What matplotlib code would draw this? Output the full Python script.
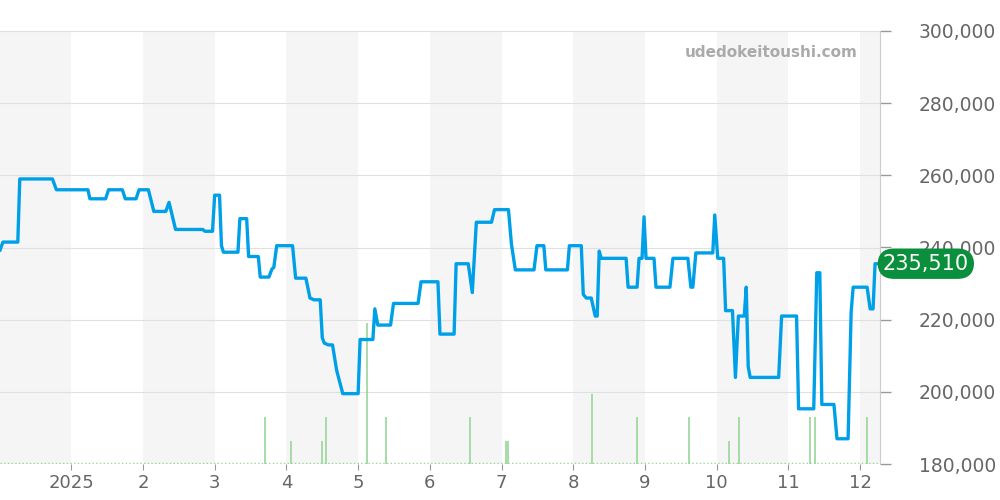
import matplotlib.pyplot as plt
import numpy as np

# x in months since 2025-01-01 (0 = Jan 2025), price in yen
line_x_px = [0, 3, 18, 20, 53, 57, 89, 91, 107, 110, 124, 127, 138, 141, 150, 155, 166, 169, 175, 200,
             202, 209, 211, 216, 218, 220, 235, 237, 244, 246, 256, 258, 267, 270, 272, 275, 291, 294,
             304, 308, 312, 318, 320, 322, 326, 330, 334, 340, 355, 357, 370, 372, 375, 388, 391, 416,
             419, 436, 438, 452, 454, 466, 470, 474, 489, 492, 506, 509, 513, 532, 535, 542, 544, 566,
             568, 580, 582, 585, 590, 594, 596, 598, 600, 625, 627, 636, 638, 641, 643, 645, 653, 655,
             669, 672, 687, 690, 692, 695, 712, 714, 717, 723, 725, 732, 735, 738, 744, 746, 748, 750,
             779, 782, 797, 799, 814, 817, 820, 822, 834, 837, 848, 851, 853, 867, 870, 873, 875, 880]
prices = [239.3, 241.5, 241.5, 259, 259, 256, 256, 253.5, 253.5, 256, 256, 253.5, 253.5, 256, 256, 250,
          250, 252.5, 245, 245, 244.5, 244.5, 254.5, 254.5, 240.5, 238.7, 238.7, 248, 248, 237.5, 237.5,
          231.8, 231.8, 234, 234.5, 240.5, 240.5, 231.5, 231.5, 226, 225.5, 225.5, 215, 213.5, 213, 213,
          206, 199.5, 199.5, 214.5, 214.5, 223, 218.5, 218.5, 224.5, 224.5, 230.5, 230.5, 216, 216,
          235.5, 235.5, 227.5, 247, 247, 250.5, 250.5, 241, 233.8, 233.8, 240.5, 240.5, 233.8, 233.8,
          240.5, 240.5, 227, 226, 226, 221, 221, 239, 237, 237, 229, 229, 237, 237, 248.5, 237, 237, 229,
          229, 237, 237, 229, 229, 238.5, 238.5, 249, 237, 237, 222.5, 222.5, 204, 221, 221, 229, 207,
          204, 204, 221, 221, 195.3, 195.3, 233, 233, 196.5, 196.5, 187, 187, 222, 229, 229, 223, 223,
          235.5, 235.5]
vol_x_px = [263, 289, 320, 324, 364, 383, 468, 504, 506, 591, 636, 688, 728, 739, 810, 815, 867]
vol_counts = [2, 1, 1, 2, 6, 2, 2, 1, 1, 3, 2, 2, 1, 2, 2, 2, 2]
month_labels = ['2025', '2', '3', '4', '5', '6', '7', '8', '9', '10', '11', '12']
month_px = [72, 145, 211, 285, 355, 428, 499, 572, 644, 716, 789, 860]
last_price = 235510


def px2m(p):
    if p < 72:
        return (p - 72) / 72.5
    if p > 860:
        return 11 + (p - 860) / 72.5
    return float(np.interp(p, month_px, range(12)))


lx = [px2m(p) for p in line_x_px]
vx = [px2m(p) for p in vol_x_px]
py = [v * 1000 for v in prices]
xmin, xmax = px2m(0), px2m(880)

fig = plt.figure(figsize=(10, 5), dpi=100)
ax = fig.add_axes([0.0, 0.072, 0.88, 0.866])
ax2 = ax.twinx()
ax.set_xlim(xmin, xmax)
ax.set_ylim(180000, 300000)
ax2.set_ylim(0, 120 / 6.5)

# alternating month shading and grid (drawn on the bottom axes)
for m in [-1, 1, 3, 5, 7, 9, 11]:
    ax2.axvspan(max(m, xmin), min(m + 1, xmax), color='#f5f5f5', zorder=0, lw=0)
for yv in range(200000, 300001, 20000):
    ax2.axhline((yv - 180000) / 6500, color='#e0e0e0', lw=0.8, zorder=1)

ax2.vlines(vx, 0, vol_counts, color='#99d699', lw=1.2, zorder=2)
ax2.axhline(0.05, color='#99d699', lw=1, ls=':', zorder=2)
ax2.set_yticks([])
for s in ax2.spines.values():
    s.set_visible(False)

ax.set_zorder(ax2.get_zorder() + 1)
ax.patch.set_visible(False)
ax.plot(lx, py, color='#00a0e9', lw=2.4, zorder=3, solid_joinstyle='round')

ax.yaxis.tick_right()
ax.set_yticks(range(180000, 300001, 20000))
ax.set_yticklabels([f'{v:,}' for v in range(180000, 300001, 20000)])
ax.tick_params(axis='y', colors='#999999', labelcolor='#666666', labelsize=13.5, length=8, width=1, pad=20)
ax.set_xticks(range(12))
ax.set_xticklabels(month_labels)
ax.tick_params(axis='x', colors='#999999', labelcolor='#666666', labelsize=13, length=4)
for k, s in ax.spines.items():
    s.set_visible(k == 'right')
ax.spines['right'].set_color('#cccccc')

ax.text(0.975, 0.95, 'udedokeitoushi.com', transform=ax.transAxes, ha='right', va='center',
        fontsize=11, fontweight='bold', color='#aaaaaa')
ax.annotate(f'{last_price:,}', xy=(1.0, last_price), xycoords=('axes fraction', 'data'),
            xytext=(2, 0), textcoords='offset points', ha='left', va='center', fontsize=15,
            color='white', bbox=dict(boxstyle='round,pad=0.25,rounding_size=0.8', fc='#0a8f3c', ec='none'),
            zorder=10, annotation_clip=False)

fig.savefig('out.png')
